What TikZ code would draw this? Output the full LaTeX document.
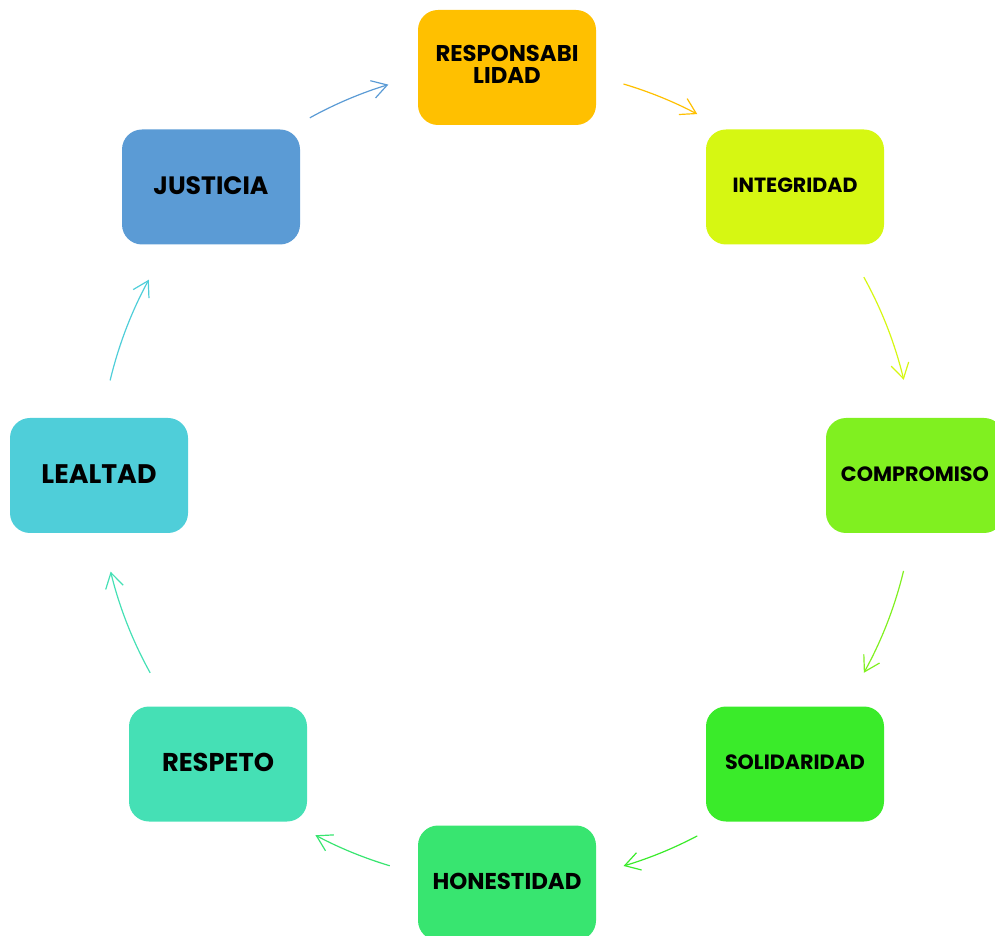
\documentclass[tikz,border=0pt]{standalone}
\usepackage{fontspec}
\setmainfont{Poppins}
\usetikzlibrary{arrows.meta}
\definecolor{cResp}{HTML}{FFC000}
\definecolor{cInteg}{HTML}{D6F712}
\definecolor{cComp}{HTML}{80F020}
\definecolor{cSolid}{HTML}{3AEB2A}
\definecolor{cHon}{HTML}{38E570}
\definecolor{cRespeto}{HTML}{45E0B5}
\definecolor{cLeal}{HTML}{4FCED9}
\definecolor{cJust}{HTML}{5B9BD5}
\newcommand\fitw[2]{\raisebox{3pt}{\resizebox{#1}{!}{#2}}}
\tikzset{
  valbox/.style={rounded corners=20pt, minimum width=178pt, minimum height=115pt, inner sep=0pt, text=black, font=\bfseries},
  conn/.style={line width=1.2pt, -{Straight Barb[length=15pt,width=18pt]}}
}
\begin{document}
\begin{tikzpicture}[x=1pt,y=1pt]
\useasboundingbox (0,0) rectangle (995,935);
\clip (0,0) rectangle (995,935);
\coordinate (c) at (507,460);
\node[valbox, fill=cResp] (resp) at (507,867.5) {\resizebox{143pt}{!}{\fontsize{20}{17}\selectfont\begin{tabular}{@{}c@{}}RESPONSABI\\LIDAD\end{tabular}}};
\node[valbox, fill=cInteg] (integ) at (795,748) {\fitw{125pt}{INTEGRIDAD}};
\node[valbox, fill=cComp] (comp) at (915,459.5) {\fitw{148pt}{COMPROMISO}};
\node[valbox, fill=cSolid] (solid) at (795,171) {\fitw{140pt}{SOLIDARIDAD}};
\node[valbox, fill=cHon] (hon) at (507,52) {\fitw{149pt}{HONESTIDAD}};
\node[valbox, fill=cRespeto] (respeto) at (218,171) {\fitw{112pt}{RESPETO}};
\node[valbox, fill=cLeal] (leal) at (99,459.5) {\fitw{115pt}{LEALTAD}};
\node[valbox, fill=cJust] (just) at (211,748) {\fitw{115pt}{JUSTICIA}};
\path (c) ++(118.9:408) coordinate (a1);
\path (c) ++(73.4:408) coordinate (a2);
\path (c) ++(29:408) coordinate (a3);
\path (c) ++(-13.6:408) coordinate (a4);
\path (c) ++(-62.2:408) coordinate (a5);
\path (c) ++(-106.7:408) coordinate (a6);
\path (c) ++(-151:408) coordinate (a7);
\path (c) ++(166.6:408) coordinate (a8);
\draw[conn, cJust] (a1) arc[start angle=118.9, end angle=106.9, radius=408];
\draw[conn, cResp] (a2) arc[start angle=73.4, end angle=62.2, radius=408];
\draw[conn, cInteg] (a3) arc[start angle=29, end angle=13.5, radius=408];
\draw[conn, cComp] (a4) arc[start angle=-13.6, end angle=-29, radius=408];
\draw[conn, cSolid] (a5) arc[start angle=-62.2, end angle=-73.4, radius=408];
\draw[conn, cHon] (a6) arc[start angle=-106.7, end angle=-118, radius=408];
\draw[conn, cRespeto] (a7) arc[start angle=-151, end angle=-166.3, radius=408];
\draw[conn, cLeal] (a8) arc[start angle=166.6, end angle=151.4, radius=408];
\end{tikzpicture}
\end{document}
